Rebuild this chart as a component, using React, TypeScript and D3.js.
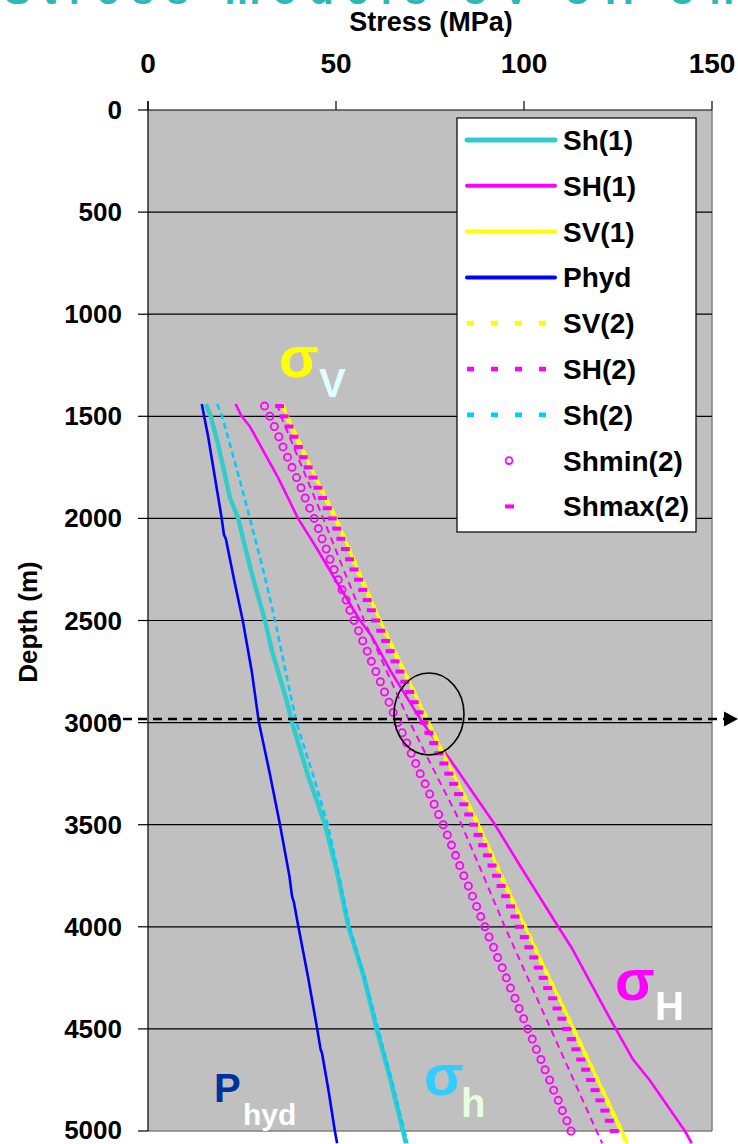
import React from "react";
import * as d3 from "d3";

// ---------- data ----------
const xTicks = [0, 50, 100, 150];
const yTicks = [0, 500, 1000, 1500, 2000, 2500, 3000, 3500, 4000, 4500, 5000];

const phydDepth = [1440, 1600, 1800, 2000, 2080, 2100, 2300, 2500, 2750, 3000, 3250, 3500, 3750, 3850, 3880, 4000, 4250, 4500, 4600, 4620, 4800, 5000, 5060];
const phydVal = [14.3, 16.0, 17.8, 19.6, 20.2, 20.7, 22.9, 25.2, 27.6, 29.5, 32.4, 35.1, 37.6, 38.3, 38.8, 40.0, 42.6, 45.0, 45.9, 46.3, 48.0, 49.7, 50.3];

const sh1Depth = [1440, 1500, 1650, 1800, 1900, 2000, 2100, 2250, 2400, 2500, 2650, 2800, 2900, 3000, 3250, 3500, 3750, 4000, 4250, 4500, 4750, 5000, 5060];
const sh1Val = [15.4, 16.7, 18.8, 20.6, 21.8, 24.0, 25.3, 27.3, 29.6, 31.1, 33.0, 35.4, 37.0, 38.3, 42.4, 47.1, 50.5, 53.3, 57.5, 60.8, 64.5, 67.8, 68.6];

const sh2Depth = [1440, 1500, 1750, 2000, 2250, 2500, 2750, 3000, 3250, 3500, 3750, 4000, 4250, 4500, 4750, 5000, 5060];
const sh2Val = [18.4, 19.7, 23.5, 27.1, 30.6, 33.8, 36.6, 39.5, 43.8, 47.8, 50.8, 53.6, 57.6, 61.2, 64.8, 68.2, 69.0];

const SH1Depth = [1440, 1500, 1550, 1800, 2000, 2150, 2315, 2500, 2580, 2750, 3000, 3180, 3500, 3750, 3870, 4000, 4100, 4250, 4400, 4500, 4650, 4750, 5000, 5060];
const SH1Val = [23.3, 24.9, 27.1, 34.6, 39.9, 45.0, 50.3, 56.4, 59.6, 64.6, 73.0, 80.3, 92.3, 100.6, 104.7, 109.1, 112.6, 117.0, 121.4, 124.4, 129.0, 133.4, 142.8, 144.6];

const SV1Depth = [1440, 1500, 1750, 2000, 2250, 2500, 2750, 3000, 3250, 3500, 3750, 4000, 4250, 4500, 4750, 5000, 5060];
const SV1Val = [35.8, 37.0, 43.3, 50.0, 55.8, 61.7, 68.2, 74.6, 81.2, 87.9, 94.0, 100.3, 106.7, 113.2, 119.6, 126.0, 127.5];

const SV2Depth = [1440, 1500, 1750, 2000, 2250, 2500, 2750, 3000, 3250, 3500, 3750, 4000, 4250, 4500, 4750, 5000, 5060];
const SV2Val = [35.7, 36.9, 43.2, 49.9, 55.7, 61.6, 68.1, 74.5, 81.1, 87.8, 93.9, 100.2, 106.6, 113.1, 119.5, 125.9, 127.4];

const SH2Depth = [1440, 1500, 1750, 2000, 2250, 2500, 2750, 3000, 3250, 3500, 3750, 4000, 4250, 4500, 4750, 5000, 5060];
const SH2Val = [34.3, 35.4, 41.0, 46.6, 52.0, 57.5, 63.5, 69.7, 76.5, 83.4, 89.2, 94.9, 101.0, 107.1, 113.2, 119.3, 120.8];

const markerDepth = d3.range(1450, 5001, 50);
const shminVal = [
  31.0, 32.4, 33.6, 34.8, 35.9, 37.1, 38.3, 39.5, 40.7, 41.8, 43.0, 44.2, 45.3, 46.3, 47.4, 48.4, 49.5, 50.6,
  51.6, 52.7, 53.7, 54.8, 56.0, 57.1, 58.3, 59.4, 60.6, 61.8, 62.9, 64.1, 65.2, 66.4, 67.6, 68.8, 70.0, 71.2,
  72.4, 73.7, 74.9, 76.1, 77.3, 78.5, 79.6, 80.7, 81.8, 82.9, 84.0, 85.2, 86.3, 87.4, 88.5, 89.6, 90.7, 91.9,
  93.0, 94.2, 95.3, 96.4, 97.6, 98.7, 99.9, 101.0, 102.2, 103.3, 104.5, 105.6, 106.8, 107.9, 109.1, 110.2, 111.4, 112.5,
];
const shmaxVal = [
  35.0, 36.2, 37.5, 38.8, 40.0, 41.3, 42.6, 43.9, 45.2, 46.4, 47.7, 49.0, 50.2, 51.3, 52.5, 53.6, 54.8, 56.0,
  57.1, 58.3, 59.4, 60.6, 61.9, 63.2, 64.4, 65.7, 67.0, 68.3, 69.6, 70.8, 72.1, 73.4, 74.7, 76.0, 77.4, 78.7,
  80.0, 81.3, 82.6, 84.0, 85.3, 86.6, 87.8, 89.0, 90.3, 91.5, 92.7, 93.9, 95.1, 96.4, 97.6, 98.8, 100.1, 101.3,
  102.6, 103.8, 105.1, 106.3, 107.6, 108.8, 110.1, 111.3, 112.6, 113.8, 115.1, 116.4, 117.7, 118.9, 120.2, 121.5, 122.7, 124.0,
];

const legendNames = ["Sh(1)", "SH(1)", "SV(1)", "Phyd", "SV(2)", "SH(2)", "Sh(2)", "Shmin(2)", "Shmax(2)"];

// ---------- styles ----------
const MAG = "#FF00FF";
const YEL = "#FFFF00";
const CYA1 = "#33CCCC";
const CYA2 = "#00CCFF";
const BLU = "#0000FF";
const FONT = "'Liberation Sans', Arial, sans-serif";

const W = 738;
const H = 1144;
const x = d3.scaleLinear().domain([0, 150]).range([148, 712]);
const y = d3.scaleLinear().domain([0, 5000]).range([110, 1131]);

function path(depths: number[], vals: number[]) {
  const pts = depths.map((d, i) => [vals[i], d] as [number, number]);
  return d3.line<[number, number]>().x((p) => x(p[0])).y((p) => y(p[1]))(pts) || "";
}

type LineStyle = { stroke: string; width: number; dash?: string; cap?: string };

const lineSeries: { name: string; depth: number[]; val: number[]; style: LineStyle }[] = [
  { name: "Sh(1)", depth: sh1Depth, val: sh1Val, style: { stroke: CYA1, width: 4.5 } },
  { name: "SH(1)", depth: SH1Depth, val: SH1Val, style: { stroke: MAG, width: 2.6 } },
  { name: "SV(1)", depth: SV1Depth, val: SV1Val, style: { stroke: YEL, width: 3 } },
  { name: "Phyd", depth: phydDepth, val: phydVal, style: { stroke: BLU, width: 2.6 } },
  { name: "SV(2)", depth: SV2Depth, val: SV2Val, style: { stroke: YEL, width: 4.5, dash: "7,6" } },
  { name: "SH(2)", depth: SH2Depth, val: SH2Val, style: { stroke: MAG, width: 2, dash: "7,5" } },
  { name: "Sh(2)", depth: sh2Depth, val: sh2Val, style: { stroke: CYA2, width: 2.6, dash: "6,4" } },
];

const legendStyles: LineStyle[] = [
  { stroke: CYA1, width: 5, cap: "round" },
  { stroke: MAG, width: 4, cap: "round" },
  { stroke: YEL, width: 4, cap: "round" },
  { stroke: BLU, width: 4, cap: "round" },
  { stroke: YEL, width: 5, dash: "7,17" },
  { stroke: MAG, width: 4.5, dash: "7,17" },
  { stroke: CYA2, width: 4.5, dash: "7,17" },
];

export default function App() {
  const legX = 457;
  const legY = 118;
  const legW = 239;
  const legH = 414;
  const rowY = (i: number) => 140 + i * 45.8;

  return (
    <svg
      width={W}
      height={H}
      viewBox={`0 0 ${W} ${H}`}
      style={{ position: "absolute", left: 0, top: 0, background: "#fff" }}
      fontFamily={FONT}
    >
      <defs>
        <clipPath id="topClip">
          <rect x={0} y={0} width={W} height={7} />
        </clipPath>
      </defs>
      {/* cut-off title at very top (only its lower edge is visible) */}
      <g clipPath="url(#topClip)">
        <text x={369} y={4} textAnchor="middle" fontSize={40} fontWeight="bold" fill="#2DB8B8" textLength={730} lengthAdjust="spacing">
          Stress models σV σH σh
        </text>
      </g>

      {/* plot area */}
      <rect x={x(0)} y={y(0)} width={x(150) - x(0)} height={y(5000) - y(0)} fill="#C0C0C0" />
      <line x1={x(150)} x2={x(150)} y1={y(0)} y2={y(5000)} stroke="#808080" strokeWidth={1.5} />
      <line x1={x(0)} x2={x(150)} y1={y(5000)} y2={y(5000)} stroke="#808080" strokeWidth={1.5} />

      {/* gridlines */}
      {yTicks.slice(1, -1).map((t) => (
        <line key={"g" + t} x1={x(0)} x2={x(150)} y1={y(t)} y2={y(t)} stroke="#000" strokeWidth={1.2} />
      ))}

      {/* axes */}
      <line x1={x(0)} x2={x(150)} y1={y(0)} y2={y(0)} stroke="#000" strokeWidth={1.2} />
      <line x1={x(0)} x2={x(0)} y1={y(0) - 9} y2={y(5000)} stroke="#000" strokeWidth={1.2} />
      {xTicks.map((t) => (
        <g key={"xt" + t}>
          <line x1={x(t)} x2={x(t)} y1={y(0) - 9} y2={y(0)} stroke="#000" strokeWidth={1.2} />
          <text x={x(t)} y={73} textAnchor="middle" fontSize={28} fontWeight="bold" fill="#000">
            {t}
          </text>
        </g>
      ))}
      {yTicks.map((t) => (
        <g key={"yt" + t}>
          <line x1={x(0) - 10} x2={x(0)} y1={y(t)} y2={y(t)} stroke="#000" strokeWidth={1.2} />
          <text x={122} y={Math.min(y(t) + 9, 1139)} textAnchor="end" fontSize={26} fontWeight="bold" fill="#000">
            {t}
          </text>
        </g>
      ))}

      {/* axis titles */}
      <text x={431} y={31} textAnchor="middle" fontSize={27} fontWeight="bold" fill="#000">
        Stress (MPa)
      </text>
      <text transform={`translate(37,622) rotate(-90)`} textAnchor="middle" fontSize={26} fontWeight="bold" fill="#000">
        Depth (m)
      </text>

      {/* series lines */}
      {lineSeries.map((s) => (
        <path
          key={s.name}
          d={path(s.depth, s.val)}
          fill="none"
          stroke={s.style.stroke}
          strokeWidth={s.style.width}
          strokeDasharray={s.style.dash}
          strokeLinejoin="round"
        />
      ))}

      {/* Shmin(2) circles */}
      {markerDepth.map((d, i) => (
        <circle key={"mn" + d} cx={x(shminVal[i])} cy={y(d)} r={3.6} fill="none" stroke={MAG} strokeWidth={1.8} />
      ))}
      {/* Shmax(2) dash markers */}
      {markerDepth.map((d, i) => (
        <rect key={"mx" + d} x={x(shmaxVal[i]) - 4.5} y={y(d) - 2} width={9} height={4} fill={MAG} />
      ))}

      {/* 3000 m marker: dashed line, arrow, ellipse */}
      <line x1={108} x2={724} y1={719} y2={719} stroke="#000" strokeWidth={2.5} strokeDasharray="9,6" />
      <path d="M724,711.5 L738,719 L724,726.5 Z" fill="#000" />
      <ellipse cx={429} cy={714} rx={35} ry={41} fill="none" stroke="#000" strokeWidth={1.6} />

      {/* annotation labels */}
      <text x={279} y={377} fontSize={58} fontWeight="bold" fill={YEL}>σ</text>
      <text x={319} y={397} fontSize={40} fontWeight="bold" fill="#E0FFFF">V</text>
      <text x={615} y={1000} fontSize={58} fontWeight="bold" fill={MAG}>σ</text>
      <text x={655} y={1020} fontSize={40} fontWeight="bold" fill="#FFFFFF">H</text>
      <text x={424} y={1095} fontSize={58} fontWeight="bold" fill="#33CCFF">σ</text>
      <text x={461} y={1117} fontSize={40} fontWeight="bold" fill="#E6FFE0">h</text>
      <text x={214} y={1102} fontSize={40} fontWeight="bold" fill="#003399">P</text>
      <text x={243} y={1125} fontSize={30} fontWeight="bold" fill="#FFFFFF">hyd</text>

      {/* legend */}
      <rect x={legX} y={legY} width={legW} height={legH} fill="#fff" stroke="#000" strokeWidth={1.2} />
      {legendNames.map((n, i) => (
        <g key={"lg" + n}>
          {i < 7 ? (
            <line
              x1={467}
              x2={i < 4 ? 555 : 557}
              y1={rowY(i)}
              y2={rowY(i)}
              stroke={legendStyles[i].stroke}
              strokeWidth={legendStyles[i].width}
              strokeDasharray={legendStyles[i].dash}
              strokeLinecap={(legendStyles[i].cap as any) || "butt"}
            />
          ) : i === 7 ? (
            <circle cx={509} cy={rowY(i)} r={3.4} fill="none" stroke={MAG} strokeWidth={1.8} />
          ) : (
            <rect x={505} y={rowY(i) - 2} width={9} height={4} fill={MAG} />
          )}
          <text x={563} y={rowY(i) + 10} fontSize={28} fontWeight="bold" fill="#000">
            {n}
          </text>
        </g>
      ))}
    </svg>
  );
}
